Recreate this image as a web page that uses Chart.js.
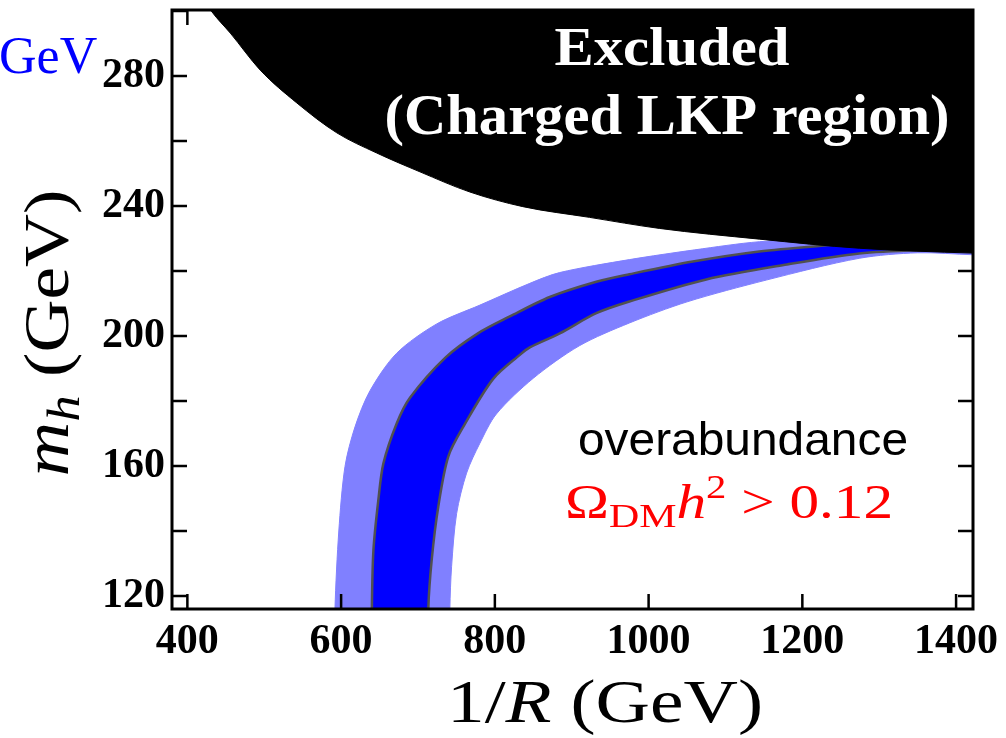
<!DOCTYPE html>
<html>
<head>
<meta charset="utf-8">
<script src="https://cdn.jsdelivr.net/npm/chart.js@4.4.0/dist/chart.umd.min.js"></script>
<style>
  html, body { margin: 0; padding: 0; background: #fff; }
  #wrap { width: 1006px; height: 738px; }
</style>
</head>
<body>
<div id="wrap"><canvas id="mhChart" width="1006" height="738"></canvas></div>
<script>
// axis ticks
const xTickLabels = [400, 600, 800, 1000, 1200, 1400];
const yTickLabels = [120, 160, 200, 240, 280];

// charged LKP boundary (black region above it)
const excludedX = [420, 432, 455.8, 494.8, 542.4, 594.4, 646.3, 702.6, 767.5, 836.4, 923, 1014, 1144, 1274, 1422, 1440];
const excludedY = [304, 299.7, 293.2, 281.8, 271.7, 262.5, 256.3, 250.5, 244.3, 239.8, 236.5, 233.1, 229.8, 227, 225.5, 225.4];

// outer (light) band edges
const outerLeftX = [592, 592, 597, 605, 618, 637.7, 672.3, 724.3, 780.5, 845.5, 884, 975, 1060, 1144, 1300, 1440];
const outerLeftY = [100, 116, 140, 159.8, 172, 183.2, 194.7, 203.7, 209.5, 216.2, 219.5, 223.5, 226.5, 229, 231, 231];
const outerRightX = [741.5, 741.5, 743.7, 750.3, 763.2, 780.5, 802, 850, 910, 975, 1050, 1153, 1274, 1350, 1422, 1440];
const outerRightY = [100, 116, 129, 145.4, 157.8, 167, 176, 187, 197, 204, 210.5, 217.2, 223.9, 225.6, 225, 225];

// inner (dark) band edges
const innerLeftX = [640, 640, 642, 648.4, 655, 672.3, 689.6, 736, 778, 819.5, 871.4, 932, 975, 1057.5, 1144, 1222, 1300, 1440];
const innerLeftY = [100, 116, 134, 149.5, 160.8, 173.1, 181, 193.4, 200.8, 206, 212, 216.7, 219, 222.9, 226, 227.7, 229, 229];
const innerRightX = [713.4, 713.4, 717.8, 726.4, 739.4, 760, 797.8, 832.5, 845.5, 884.4, 932, 975, 1075, 1180, 1274, 1350, 1440];
const innerRightY = [100, 116, 131, 147.5, 162.9, 172.5, 186.8, 194.2, 196.5, 200.8, 207, 210.6, 217.4, 222, 225.4, 226.4, 226.6];

function pts(xs, ys) {
    return xs.map((x, i) => ({x: x, y: ys[i]}));
}

// closed outline: left edge going up, right edge coming back down
function band(lx, ly, rx, ry) {
    return pts(lx, ly).concat(pts(rx, ry).reverse());
}

const tickFont = {family: "'Liberation Serif', 'Times New Roman', serif", size: 42, weight: 'bold'};

// draws a row of text pieces, squeezed/stretched to a given width
function drawRuns(ctx, runs, cx, baseY, width) {
    let total = 0;
    runs.forEach(r => { ctx.font = r.font; r.w = ctx.measureText(r.t).width; total += r.w; });
    const k = width / total;
    ctx.save();
    ctx.translate(cx - width / 2, baseY);
    ctx.scale(k, 1);
    let x = 0;
    runs.forEach(r => {
        ctx.font = r.font;
        ctx.fillText(r.t, x, r.dy || 0);
        x += r.w;
    });
    ctx.restore();
}

const framePlugin = {
    id: 'frame',
    afterDatasetsDraw(chart) {
        const ctx = chart.ctx;
        const a = chart.chartArea;
        const xs = chart.scales.x, ys = chart.scales.y;
        ctx.save();
        ctx.strokeStyle = '#000';
        ctx.lineWidth = 2.5;
        ctx.beginPath();
        xs.ticks.forEach(t => {
            const px = xs.getPixelForValue(t.value);
            ctx.moveTo(px, a.bottom); ctx.lineTo(px, a.bottom - 15);
            ctx.moveTo(px, a.top); ctx.lineTo(px, a.top + 15);
        });
        ys.ticks.forEach(t => {
            const py = ys.getPixelForValue(t.value);
            ctx.moveTo(a.left, py); ctx.lineTo(a.left + 15, py);
            ctx.moveTo(a.right, py); ctx.lineTo(a.right - 15, py);
        });
        ctx.stroke();
        ctx.lineWidth = 3;
        ctx.strokeRect(a.left, a.top, a.right - a.left, a.bottom - a.top);
        ctx.restore();
    }
};

const serif = "'Liberation Serif', 'Times New Roman', serif";

const textPlugin = {
    id: 'labels',
    afterDraw(chart) {
        const ctx = chart.ctx;
        ctx.save();
        ctx.textBaseline = 'alphabetic';
        ctx.textAlign = 'left';

        // region labels
        ctx.fillStyle = '#fff';
        drawRuns(ctx, [{t: 'Excluded', font: 'bold 55px ' + serif}], 672, 65, 235);
        drawRuns(ctx, [{t: '(Charged LKP region)', font: 'bold 57px ' + serif}], 667, 134, 565);

        ctx.fillStyle = '#000';
        drawRuns(ctx, [{t: 'overabundance', font: "47px 'Liberation Sans', Arial, sans-serif"}], 743, 455, 330);

        ctx.fillStyle = '#ff0000';
        drawRuns(ctx, [
            {t: '\u03A9', font: '48px ' + serif},
            {t: 'DM', font: '34px ' + serif, dy: 9},
            {t: 'h', font: 'italic 48px ' + serif},
            {t: '2', font: '33px ' + serif, dy: -20},
            {t: ' > 0.12', font: '48px ' + serif}
        ], 729, 518, 328);

        // stray blue unit text at top left
        ctx.fillStyle = '#0000ff';
        ctx.font = '52px ' + serif;
        ctx.fillText('GeV', -1, 73);

        // axis titles
        ctx.fillStyle = '#000';
        drawRuns(ctx, [
            {t: '1/', font: '62px ' + serif},
            {t: 'R', font: 'italic 62px ' + serif},
            {t: ' (GeV)', font: '62px ' + serif}
        ], 605, 722, 316);

        ctx.save();
        ctx.translate(68, 333);
        ctx.rotate(-Math.PI / 2);
        drawRuns(ctx, [
            {t: 'm', font: 'italic 66px ' + serif},
            {t: 'h', font: 'italic 46px ' + serif, dy: 11},
            {t: ' (GeV)', font: '64px ' + serif}
        ], 0, 0, 287);
        ctx.restore();

        ctx.restore();
    }
};

document.addEventListener('DOMContentLoaded', function() {
    const ctx = document.getElementById('mhChart').getContext('2d');
    new Chart(ctx, {
        type: 'scatter',
        data: {
            datasets: [{
                label: 'Excluded',
                data: pts(excludedX, excludedY),
                showLine: true,
                cubicInterpolationMode: 'monotone',
                fill: 'end',
                backgroundColor: '#000',
                borderColor: '#000',
                borderWidth: 1,
                pointRadius: 0,
                clip: 0
            }, {
                label: 'inner band',
                data: band(innerLeftX, innerLeftY, innerRightX, innerRightY),
                showLine: true,
                tension: 0.3,
                fill: 'shape',
                backgroundColor: '#0000ff',
                borderColor: '#505050',
                borderWidth: 2.5,
                pointRadius: 0,
                clip: 0
            }, {
                label: 'outer band',
                data: band(outerLeftX, outerLeftY, outerRightX, outerRightY),
                showLine: true,
                tension: 0.3,
                fill: 'shape',
                backgroundColor: '#8080ff',
                borderColor: '#8080ff',
                borderWidth: 1,
                pointRadius: 0,
                clip: 0
            }]
        },
        options: {
            responsive: false,
            animation: false,
            layout: {padding: {top: 10, right: 33, left: 0, bottom: 0}},
            elements: {line: {capBezierPoints: false}},
            plugins: {
                legend: {display: false},
                tooltip: {enabled: false}
            },
            scales: {
                x: {
                    type: 'linear',
                    min: 380,
                    max: 1422,
                    grid: {display: false, drawTicks: false},
                    border: {display: false},
                    ticks: {
                        stepSize: 200,
                        includeBounds: false,
                        autoSkip: false,
                        maxRotation: 0,
                        padding: 8,
                        color: '#000',
                        font: tickFont,
                        callback: v => xTickLabels.includes(v) ? String(v) : ''
                    },
                    afterFit(s) { s.height = 129; s.paddingLeft = 0; s.paddingRight = 0; }
                },
                y: {
                    type: 'linear',
                    min: 116,
                    max: 300.3,
                    grid: {display: false, drawTicks: false},
                    border: {display: false},
                    ticks: {
                        stepSize: 20,
                        includeBounds: false,
                        autoSkip: false,
                        padding: 7,
                        color: '#000',
                        font: tickFont,
                        callback: v => yTickLabels.includes(v) ? String(v) : ''
                    },
                    afterFit(s) { s.width = 172; s.paddingTop = 0; s.paddingBottom = 0; }
                }
            }
        },
        plugins: [framePlugin, textPlugin]
    });
});
</script>
</body>
</html>
